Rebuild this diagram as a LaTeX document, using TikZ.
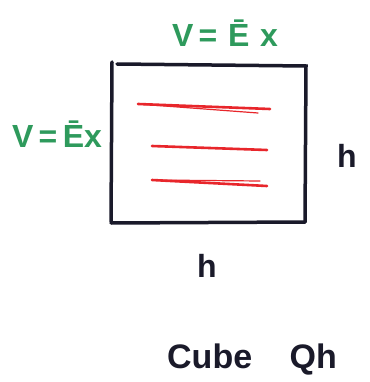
\documentclass[tikz,border=0pt]{standalone}
\usepackage{fontspec}
\setmainfont{Liberation Sans}
\definecolor{mkgreen}{HTML}{2E9A5C}
\definecolor{mkred}{HTML}{E8262B}
\definecolor{mkblack}{HTML}{1A1A2A}
\begin{document}
\begin{tikzpicture}[x=1pt,y=-1pt,
  lbl/.style={font=\fontsize{32}{36}\selectfont\bfseries, inner sep=0pt},
  glbl/.style={lbl, text=mkgreen},
  klbl/.style={lbl, text=mkblack},
  edge/.style={draw=mkblack, line width=3.5pt, line cap=round},
  stroke/.style={draw=mkred, line width=2.6pt, line cap=round}]
\useasboundingbox[fill=white] (0,0) rectangle (369,382);
\coordinate (tl) at (112,62);
\coordinate (tr) at (306,66);
\coordinate (br) at (305,222);
\coordinate (bl) at (111,223);
\draw[edge] (tl) -- (111,222);
\draw[edge] (117,64) -- (tr) -- (br);
\draw[edge] (bl) -- (br);
\coordinate (a1) at (138,104); \coordinate (a2) at (270,109);
\coordinate (b1) at (152,146); \coordinate (b2) at (267,150);
\coordinate (c1) at (152,180); \coordinate (c2) at (267,186);
\draw[stroke] (a1) -- (a2);
\draw[stroke, line width=1.2pt] (a1) -- (258,113);
\draw[stroke] (b1) -- (b2);
\draw[stroke] (c1) -- (c2);
\draw[stroke, line width=1.2pt] (c1) -- (260,181);
\node[glbl] (top) at (225,33) {V\,=\,\,Ē\,\,x};
\node[glbl] (left) at (57,134) {V\,=\,Ēx};
\node[klbl] (hr) at (347,156) {h};
\node[klbl] (hb) at (207,266) {h};
\node[klbl, font=\fontsize{34}{38}\selectfont\bfseries] (cube) at (252,360) {Cube\hspace{1.1em}Qh};
\end{tikzpicture}
\end{document}
